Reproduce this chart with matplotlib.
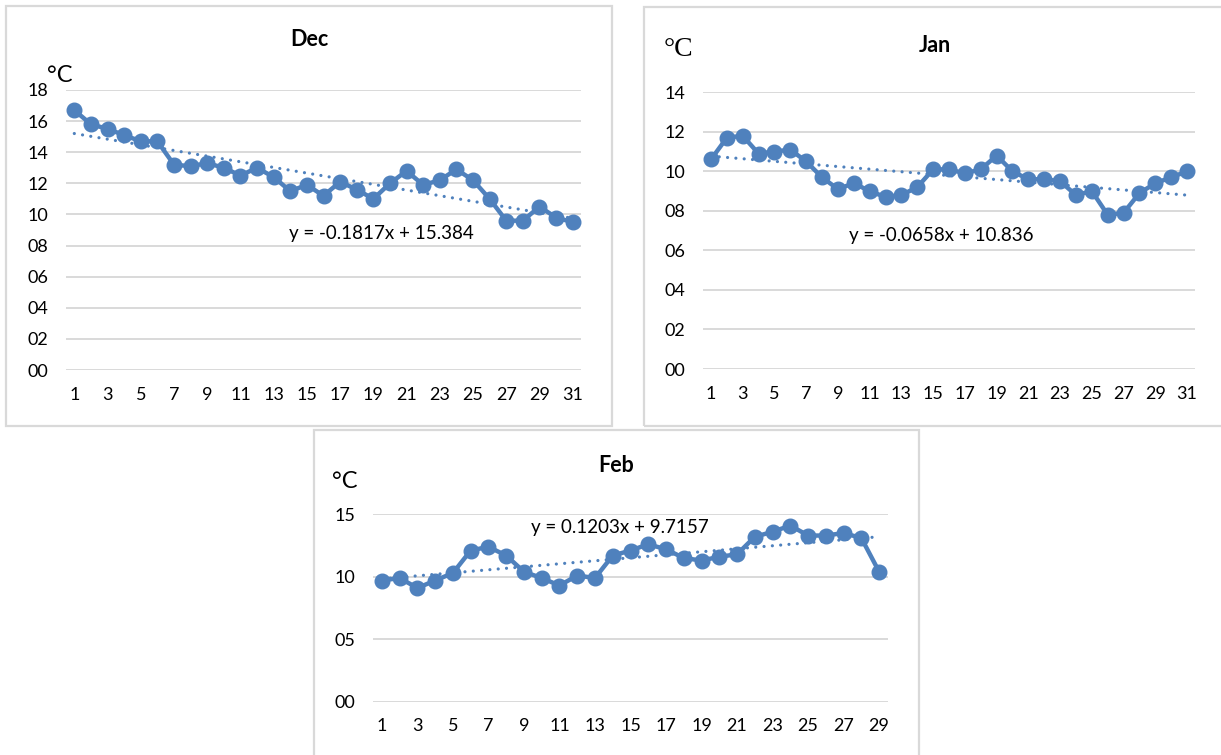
import matplotlib
matplotlib.use("Agg")
import matplotlib.pyplot as plt
from matplotlib.patches import Rectangle
from matplotlib.transforms import Bbox
import numpy as np

# ---------------- data ----------------
dec_days = list(range(1, 32))
dec_temp = [16.7, 15.8, 15.5, 15.1, 14.7, 14.7, 13.2, 13.1, 13.3, 13.0,
            12.5, 13.0, 12.4, 11.5, 11.9, 11.2, 12.1, 11.6, 11.0, 12.0,
            12.8, 11.9, 12.2, 12.9, 12.2, 11.0, 9.6, 9.6, 10.5, 9.8, 9.5]
dec_trend = [-0.1817, 15.384]

jan_days = list(range(1, 32))
jan_temp = [10.6, 11.7, 11.8, 10.9, 11.0, 11.1, 10.5, 9.7, 9.1, 9.4,
            9.0, 8.7, 8.8, 9.2, 10.1, 10.1, 9.9, 10.1, 10.8, 10.0,
            9.6, 9.6, 9.5, 8.8, 9.0, 7.8, 7.9, 8.9, 9.4, 9.7, 10.0]
jan_trend = [-0.0658, 10.836]

feb_days = list(range(1, 30))
feb_temp = [9.7, 9.9, 9.1, 9.7, 10.3, 12.1, 12.4, 11.7, 10.4, 9.9,
            9.3, 10.1, 9.9, 11.7, 12.1, 12.6, 12.2, 11.5, 11.3, 11.6,
            11.8, 13.2, 13.6, 14.1, 13.3, 13.3, 13.5, 13.1, 10.4]
feb_trend = [0.1203, 9.7157]

titles = ["Dec", "Jan", "Feb"]
trend_labels = ["y = -0.1817x + 15.384", "y = -0.0658x + 10.836", "y = 0.1203x + 9.7157"]
dec_yticks = [0, 2, 4, 6, 8, 10, 12, 14, 16, 18]
jan_yticks = [0, 2, 4, 6, 8, 10, 12, 14]
feb_yticks = [0, 5, 10, 15]

# ---------------- style ----------------
W, H = 1221, 755
BLUE = "#4f81bd"
GRID = "#d9d9d9"
FONT = "Lato"

fig = plt.figure(figsize=(W / 100, H / 100), dpi=100)
fig.patch.set_facecolor("white")


def fx(x):
    return x / W


def fy(y):
    return 1 - y / H


def panel(x0, y0, x1, y1):
    r = Rectangle((fx(x0), fy(y1)), fx(x1 - x0), (y1 - y0) / H,
                  transform=fig.transFigure, fill=False, edgecolor=GRID,
                  linewidth=1.6, zorder=0)
    fig.patches.append(r)


def make_axes(x0, ytop, x1, ybot, days, temps, trend, yticks, ymax):
    ax = fig.add_axes([fx(x0), fy(ybot), fx(x1 - x0), (ybot - ytop) / H])
    ax.set_xlim(0.5, len(days) + 0.5)
    ax.set_ylim(0, ymax)
    for s in ax.spines.values():
        s.set_visible(False)
    ax.set_yticks(yticks)
    ax.set_yticklabels([f"{v:02d}" for v in yticks])
    ax.set_xticks(days[::2])
    ax.set_xticklabels([str(d) for d in days[::2]])
    ax.tick_params(length=0, labelsize=13, colors="#000000")
    ax.tick_params(axis="y", pad=13)
    ax.tick_params(axis="x", pad=12)
    for lab in ax.get_xticklabels() + ax.get_yticklabels():
        lab.set_fontfamily(FONT)
    ax.grid(axis="y", color=GRID, linewidth=1.4)
    ax.set_axisbelow(True)
    ax.plot(days, temps, color=BLUE, linewidth=3.2, marker="o",
            markersize=10.5, markerfacecolor=BLUE, markeredgecolor=BLUE,
            zorder=3, clip_on=False)
    xs = np.array([days[0], days[-1]], dtype=float)
    ax.plot(xs, trend[0] * xs + trend[1], color=BLUE, linewidth=2.3,
            linestyle=(0, (0.01, 2.6)), dash_capstyle="round", zorder=4)
    return ax


# panels
panel(6, 6, 612, 426)
panel(644, 7, 1228, 426)
panel(314, 430, 919, 760)

make_axes(66, 90, 581, 370, dec_days, dec_temp, dec_trend, dec_yticks, 18)
make_axes(703, 92.3, 1195, 369, jan_days, jan_temp, jan_trend, jan_yticks, 14)
make_axes(373, 514.3, 888, 701.7, feb_days, feb_temp, feb_trend, feb_yticks, 15)

# titles
for (cx, cy), t in zip([(309, 40), (935, 45), (616, 466)], titles):
    fig.text(fx(cx), fy(cy), t, ha="center", va="center", fontsize=15.5,
             fontweight="bold", family=FONT)

# trend labels
for (lx, ly), t in zip([(289, 233), (849, 236), (531, 527)], trend_labels):
    fig.text(fx(lx), fy(ly), t, ha="left", va="center", fontsize=13.5,
             family=FONT)

# unit labels
fig.text(fx(47), fy(76), "°C", ha="left", va="center", fontsize=17, family=FONT)
fig.text(fx(332), fy(482), "°C", ha="left", va="center", fontsize=17, family=FONT)
tj = fig.text(fx(664), fy(49), "°C", ha="left", va="center", fontsize=20,
              family="Liberation Serif")
tj.set_clip_box(Bbox([[0, H - 57], [692, H]]))
tj.set_clip_on(True)

fig.savefig("out.png", dpi=100, facecolor="white")
